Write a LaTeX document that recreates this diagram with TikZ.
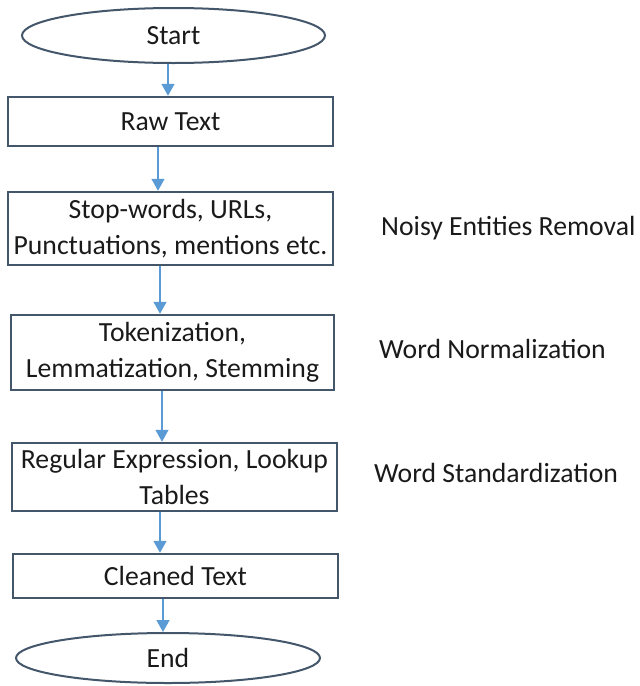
\documentclass[tikz,border=0pt]{standalone}
\usepackage{fontspec}
\setmainfont{Carlito}
\usetikzlibrary{arrows.meta,shapes.geometric}
\definecolor{boxline}{HTML}{44566A}
\definecolor{arrowblue}{HTML}{5B9BD5}
\definecolor{txt}{HTML}{1A1A1A}
\begin{document}
\begin{tikzpicture}[x=1pt,y=-1pt,
  every node/.style={text=txt,font=\fontsize{27.7}{36}\selectfont},
  procbox/.style={draw=boxline,line width=2.5pt,rectangle,inner sep=0pt,align=center},
  termnode/.style={draw=boxline,line width=2pt,ellipse,inner sep=0pt},
  sidelabel/.style={anchor=west,inner sep=0pt},
  arr/.style={draw=arrowblue,line width=1.6pt,-{Triangle[width=13pt,length=12pt]}}
]
\useasboundingbox (0,0) rectangle (640,686);
\node[termnode,minimum width=303pt,minimum height=55pt] (start) at (173.5,35.5) {Start};
\node[procbox,minimum width=325pt,minimum height=49pt] (raw) at (170.5,121.5) {Raw Text};
\node[procbox,minimum width=325pt,minimum height=73pt] (stop) at (170.5,228.5) {Stop-words, URLs,\\Punctuations, mentions etc.};
\node[procbox,minimum width=323pt,minimum height=75pt] (tok) at (172.5,352.5) {Tokenization,\\Lemmatization, Stemming};
\node[procbox,minimum width=325pt,minimum height=68pt] (reg) at (174.5,477) {Regular Expression, Lookup\\Tables};
\node[procbox,minimum width=325pt,minimum height=44pt] (clean) at (175.5,576) {Cleaned Text};
\node[termnode,minimum width=304pt,minimum height=50pt] (end) at (168,658) {End};

\node[sidelabel] (l1) at (381,228) {Noisy Entities Removal};
\node[sidelabel] (l2) at (379,349) {Word Normalization};
\node[sidelabel] (l3) at (374,473) {Word Standardization};

\draw[arr] ([xshift=-5.5pt]start.south) -- ([xshift=-2.5pt]raw.north);
\draw[arr] ([xshift=-12.5pt]raw.south) -- ([xshift=-12.5pt]stop.north);
\draw[arr] ([xshift=-10.5pt]stop.south) -- ([xshift=-12.5pt]tok.north);
\draw[arr] ([xshift=-10.5pt]tok.south) -- ([xshift=-12.5pt]reg.north);
\draw[arr] ([xshift=-14.5pt]reg.south) -- ([xshift=-15.5pt]clean.north);
\draw[arr] ([xshift=-12.5pt]clean.south) -- ([xshift=-5pt]end.north);
\end{tikzpicture}
\end{document}
